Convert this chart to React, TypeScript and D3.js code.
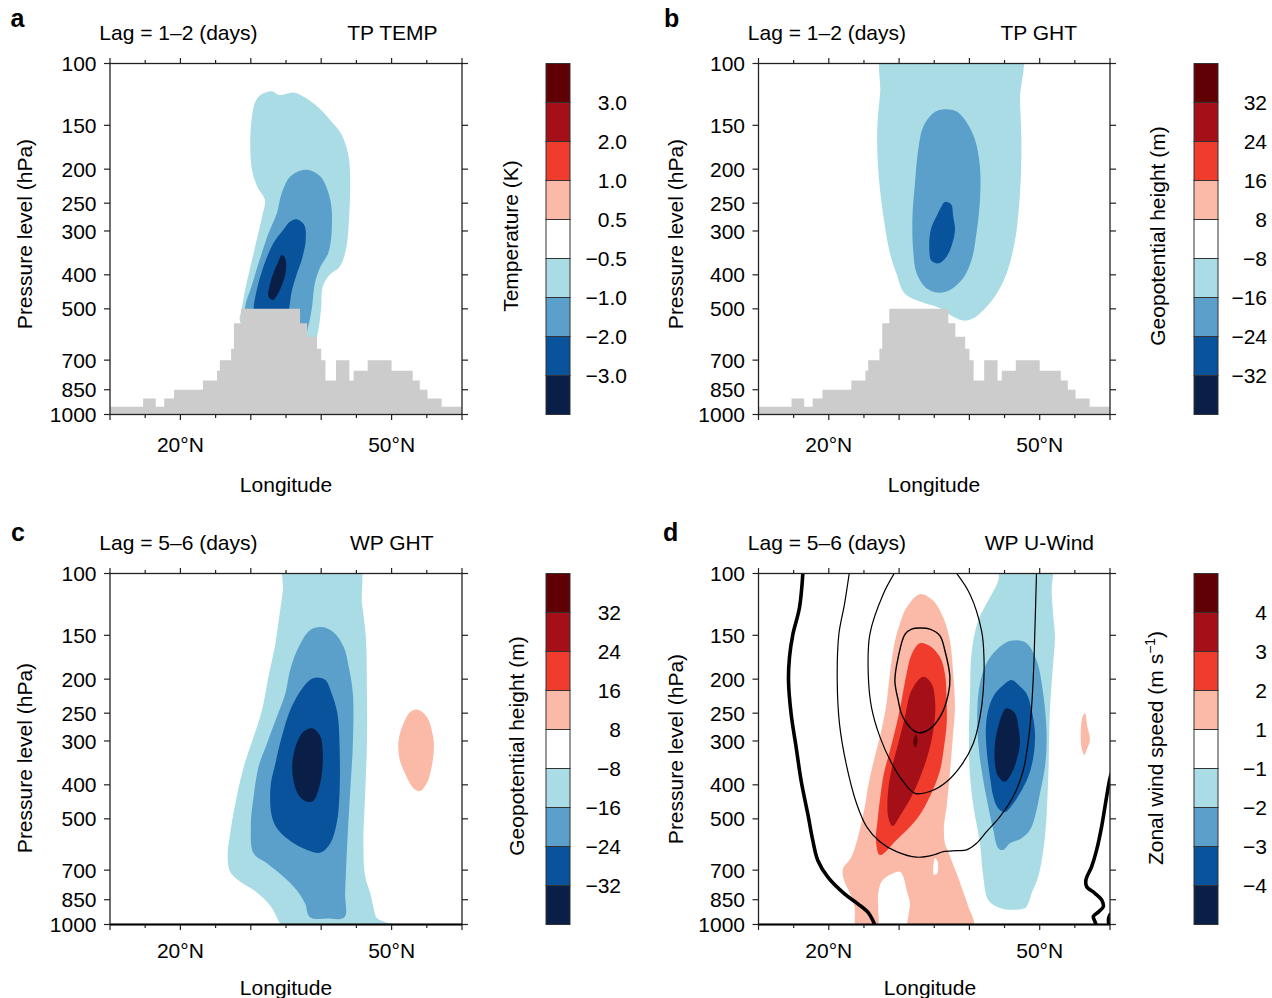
import React from "react";
import * as d3 from "d3";

const FONT = '"Liberation Sans", Arial, Helvetica, sans-serif';

// ---------- axes ----------
const LAT_TICKS = [10, 15, 20, 25, 30, 35, 40, 45, 50, 55, 60];
const LAT_LABEL_VALUES = [20, 50];
const LAT_LABEL_TEXT = ["20°N", "50°N"];
const P_TICKS = [100, 150, 200, 250, 300, 400, 500, 700, 850, 1000];

// ---------- colour levels (top of colour bar → bottom) ----------
const LEVEL_COLORS = ["#600004", "#a50f17", "#ef3c2d", "#fbbaa8", "#ffffff", "#aadce5", "#5aa0cb", "#08539c", "#0a1f47"];
const TEMP_LABELS = ["3.0", "2.0", "1.0", "0.5", "−0.5", "−1.0", "−2.0", "−3.0"];
const GHT_LABELS = ["32", "24", "16", "8", "−8", "−16", "−24", "−32"];
const WIND_LABELS = ["4", "3", "2", "1", "−1", "−2", "−3", "−4"];

// ---------- terrain (latitude edges, surface pressure of each step) ----------
const TERRAIN_EDGES = [10, 14.7, 16.5, 17.7, 19.1, 23.2, 25.2, 25.6, 27.2, 27.6, 28.6, 37.0, 38.0, 39.4, 40.0, 40.6, 42.1, 44.0, 44.6, 46.6, 50.0, 53.0, 54.0, 55.1, 57.1, 60];
const TERRAIN_TOPS = [950, 900, 950, 900, 850, 800, 750, 700, 650, 550, 500, 550, 600, 650, 700, 800, 700, 800, 750, 700, 750, 800, 850, 900, 950];

// ---------- panel a: TP TEMP (lat, hPa) ----------
const A_M05 = [[30.1,145],[31.0,125],[32.9,120],[34.1,123],[36.0,121],[37.4,124],[39.7,134],[41.4,146],[42.8,158],[43.8,180],[44.1,205],[44.0,267],[43.5,340],[42.6,380],[41.2,400],[40.2,433],[40.0,494],[39.7,557],[39.3,605],[38.5,640],[33,640],[28.5,545],[28.7,502],[29.4,423],[30.4,347],[31.6,273],[32.0,245],[30.9,224],[30.1,197]];
const A_M10 = [[35.6,210],[37.0,202],[38.2,201],[39.9,210],[41.3,245],[41.5,298],[41.0,347],[39.9,379],[39.1,423],[38.7,493],[38.2,556],[37.7,590],[34,600],[29.5,560],[29.2,493],[30.1,432],[31.1,371],[32.5,305],[33.7,267],[34.4,234]];
const A_M20 = [[35.6,282],[36.5,278],[37.6,289],[37.8,318],[37.3,359],[36.5,400],[35.8,447],[35.45,498],[35.1,540],[30.5,540],[30.4,498],[30.85,442],[31.8,379],[33.2,325],[34.6,298]];
const A_M30 = [[34.4,351],[34.9,359],[35.0,388],[34.6,418],[33.9,451],[33.2,472],[32.5,461],[32.65,432],[33.2,396],[33.9,367]];

// ---------- panel b: TP GHT ----------
const B_M8 = [[28.0,90],[27.3,122],[26.9,152],[27.0,197],[27.7,267],[28.7,347],[29.6,396],[30.8,452],[33.4,480],[35.8,498],[37.2,520],[39.1,540],[40.55,532],[42.0,504],[43.9,452],[45.3,396],[46.5,318],[47.2,234],[47.4,169],[47.2,127],[47.05,90]];
const B_M16 = [[35.6,136],[36.75,135],[38.2,137],[39.6,147],[40.8,165],[41.5,197],[41.5,245],[41.0,305],[40.3,363],[39.1,409],[37.2,442],[35.6,450],[33.9,437],[32.5,396],[32.0,340],[31.9,273],[32.25,220],[32.7,177],[33.4,152],[34.6,140]];
const B_M24 = [[36.5,248],[37.4,252],[37.7,273],[37.95,298],[37.5,329],[36.75,355],[35.6,371],[34.6,365],[34.3,340],[34.5,298],[35.3,273],[36.0,256]];

// ---------- panel c: WP GHT ----------
const C_M8 = [[34.9,90],[34.55,112],[34.1,130],[33.5,158],[32.5,197],[31.6,245],[30.4,292],[29.0,355],[27.8,452],[27.0,562],[26.7,641],[27.06,707],[28.5,755],[30.4,797],[31.8,842],[33.0,898],[33.7,953],[34.6,1010],[52.65,1010],[49.3,987],[47.9,959],[47.5,908],[46.97,815],[46.25,730],[46.0,587],[46.25,423],[46.5,305],[46.5,220],[46.35,152],[45.8,122],[45.07,90]];
const C_M16 = [[40.1,142],[41.75,147],[43.2,162],[43.9,184],[44.5,220],[44.5,305],[44.1,423],[43.7,587],[43.4,815],[43.3,953],[40.8,962],[38.4,953],[37.7,870],[36.5,797],[34.6,730],[32.3,669],[30.4,627],[30.0,526],[30.4,432],[31.1,355],[32.3,305],[33.7,256],[34.9,220],[35.6,188],[36.8,162],[38.4,145]];
const C_M24 = [[39.6,198],[40.6,201],[41.5,220],[42.3,250],[42.6,305],[42.6,423],[42.2,515],[41.3,587],[39.9,624],[38.0,613],[36.1,587],[33.9,538],[33.0,493],[32.8,405],[33.5,347],[34.4,292],[35.6,245],[37.0,217],[38.4,201]];
const C_M32 = [[38.7,276],[39.8,289],[40.2,318],[40.1,371],[39.6,414],[38.9,444],[38.0,447],[36.8,428],[36.1,392],[35.9,347],[36.5,305],[37.5,282]];
const C_P8 = [[53.6,244],[55.0,256],[55.9,292],[56.0,318],[55.7,355],[55.0,396],[54.0,417],[53.1,409],[51.9,371],[51.1,336],[51.0,298],[51.7,267],[52.65,248]];

// ---------- panel d: WP U-Wind ----------
const D_P1 = [[32.96,114.5],[34.86,119.6],[36.28,133.5],[37.23,155.5],[37.7,193],[37.94,241],[37.61,298],[37.23,371],[36.76,461],[36.38,526],[36.52,587],[36.99,620],[38.18,715],[39.03,797],[39.84,889],[40.55,1010],[31.3,1010],[31.3,949],[31.54,870],[31.06,797],[30.59,730],[30.11,707],[28.69,722],[27.5,755],[27.03,815],[27.03,908],[26.89,1010],[23.95,1010],[23.66,893],[23.0,815],[22.14,746],[22.0,695],[23.19,643],[24.14,564],[25.09,464],[25.65,398],[26.41,341],[27.36,287],[28.12,241],[28.69,193],[29.4,156],[30.11,139],[31.06,125]];
const D_P1_HOLE = [[35.1,648],[35.47,662],[35.43,715],[34.95,722],[34.86,691]];
const D_P2 = [[32.96,158],[34.38,161],[35.81,173],[36.52,193],[36.76,230],[36.76,269],[36.38,313],[35.71,371],[33.67,461],[32.01,515],[29.64,574],[27.27,634],[26.7,574],[26.89,515],[27.27,442],[27.84,371],[28.69,320],[29.64,269],[30.35,230],[31.06,193],[31.77,170]];
const D_P3 = [[33.43,197],[34.62,206],[35.14,234],[34.95,273],[34.29,318],[33.2,371],[31.77,432],[30.35,482],[29.07,524],[28.45,493],[28.45,414],[29.02,355],[29.88,305],[30.83,256],[31.77,215]];
const D_P4 = [[32.39,287],[32.63,298],[32.34,313],[32.01,305],[32.15,293]];
const D_P1_EAST = [[56.44,250],[56.78,273],[57.15,298],[56.68,318],[56.35,329],[55.97,315],[55.83,285],[56.1,256]];
const D_M1 = [[44.58,90],[51.46,90],[51.7,114],[51.94,133],[52.17,152],[51.84,188],[51.46,245],[51.22,379],[50.75,562],[49.8,730],[48.85,815],[48.38,870],[47.9,898],[46.24,908],[44.35,898],[42.68,851],[41.97,730],[41.5,587],[40.65,472],[40.08,379],[39.93,305],[40.08,220],[40.3,169],[41.26,136],[42.92,117],[44.1,105]];
const D_M2 = [[46.72,155],[48.14,158],[49.56,177],[50.5,220],[50.99,292],[50.75,355],[50.04,423],[49.33,493],[48.6,538],[47.43,568],[45.77,587],[44.82,613],[44.1,606],[43.4,538],[42.68,461],[41.88,379],[41.26,305],[41.12,245],[41.5,206],[42.45,180],[43.87,165],[45.29,157]];
const D_M3 = [[46.0,201],[47.19,210],[48.14,220],[48.85,245],[49.33,285],[49.1,333],[48.38,379],[47.19,423],[46.24,452],[45.06,478],[44.1,467],[43.4,432],[42.92,379],[42.45,318],[42.35,273],[42.68,245],[43.4,224],[44.58,210]];
const D_M4 = [[45.29,242],[46.48,250],[46.95,273],[47.19,305],[46.72,340],[46.0,371],[45.06,392],[44.1,379],[43.63,347],[43.63,305],[44.1,273],[44.72,250]];
// climatological jet contours (black)
const D_ZERO_W = [[16.35,97],[15.83,125],[14.89,149],[14.41,173],[14.27,202],[14.65,252],[15.36,313],[16.07,390],[17.02,485],[17.73,577],[18.44,657],[19.87,733],[22.24,818],[24.14,873],[25.56,922],[26.27,974],[26.6,1010]];
const D_ZERO_E = [[60.3,365],[60.0,383],[59.76,405],[59.29,461],[58.81,526],[58.1,613],[57.39,684],[56.58,746],[56.68,780],[57.86,815],[58.81,851],[59.05,889],[58.34,922],[57.63,949],[57.86,981],[58.1,1010]];
const D_ZERO_E2 = [[60.1,930],[59.8,960],[59.85,1010]];
const D_JET_OUTER = [[23.0,97],[22.24,122],[21.43,149],[21.2,202],[21.53,269],[22.48,349],[23.95,452],[25.37,526],[27.27,581],[29.64,620],[32.49,643],[34.86,634],[36.28,620],[38.18,616],[39.6,613],[41.02,587],[42.45,544],[44.35,493],[46.24,432],[47.67,363],[48.62,273],[49.09,197],[49.33,142],[49.56,97]];
const D_JET_MID = [[29.7,97],[27.74,114.5],[25.84,149],[25.61,193],[26.08,241],[27.27,292],[28.93,347],[30.59,392],[32.25,423],[34.38,418],[36.76,392],[38.89,351],[40.55,305],[41.5,257],[41.97,216],[42.07,173],[41.74,146],[40.08,114.5],[37.7,97]];
const D_JET_INNER = [[32.96,143],[34.38,144],[35.81,150.5],[36.52,166],[37.23,198],[36.99,221],[36.04,251.5],[34.38,277],[32.72,284],[31.54,274],[30.35,251.5],[29.88,230],[29.4,202],[29.88,173],[30.83,149],[31.77,144]];

type Box = { x0: number; x1: number; y0: number; y1: number };
type Fill = { pts: number[][]; c: number };
type Stroke = { pts: number[][]; w: number; closed?: boolean };

const BOX_A: Box = { x0: 110, x1: 462, y0: 63.5, y1: 414.5 };
const BOX_B: Box = { x0: 758.5, x1: 1110, y0: 63.5, y1: 414.5 };
const BOX_C: Box = { x0: 110, x1: 462, y0: 573.5, y1: 924.5 };
const BOX_D: Box = { x0: 758.5, x1: 1110, y0: 573.5, y1: 924.5 };

function Panel(props: {
  id: string; box: Box; fills: Fill[]; strokes?: Stroke[]; terrain?: boolean;
  letter: string; letterX: number; letterY: number; rightTitle: string; rightTitleX: number; lag: string;
  tickLabelDy: number; xTitleDy: number; yTitleCy: number; yTitleX: number; xTitleCx: number; thickBottom?: boolean;
}) {
  const { box } = props;
  const x = d3.scaleLinear().domain([10, 60]).range([box.x0, box.x1]);
  const y = d3.scaleLog().domain([100, 1000]).range([box.y0, box.y1]);
  const closed = d3.line<number[]>().x((d) => x(d[0])).y((d) => y(d[1])).curve(d3.curveCatmullRomClosed.alpha(0.5));
  const open = d3.line<number[]>().x((d) => x(d[0])).y((d) => y(d[1])).curve(d3.curveCatmullRom.alpha(0.5));
  const terrainData = TERRAIN_EDGES.map((e, i) => ({ lat: e, p: TERRAIN_TOPS[Math.min(i, TERRAIN_TOPS.length - 1)] }));
  const area = d3.area<{ lat: number; p: number }>().x((d) => x(d.lat)).y0(y(1000)).y1((d) => y(d.p)).curve(d3.curveStepAfter);
  const clipId = "clip-" + props.id;
  const stroke = "#222";
  return (
    <g>
      <defs>
        <clipPath id={clipId}>
          <rect x={box.x0} y={box.y0} width={box.x1 - box.x0} height={box.y1 - box.y0} />
        </clipPath>
      </defs>
      <g clipPath={`url(#${clipId})`}>
        {props.fills.map((f, i) => (
          <path key={i} d={closed(f.pts) || ""} fill={LEVEL_COLORS[f.c]} stroke="none" />
        ))}
        {props.terrain && <path d={area(terrainData) || ""} fill="#cccccc" />}
        {(props.strokes || []).map((s, i) => (
          <path key={i} d={(s.closed ? closed(s.pts) : open(s.pts)) || ""} fill="none" stroke="#000" strokeWidth={s.w} strokeLinejoin="round" />
        ))}
      </g>
      <rect x={box.x0} y={box.y0} width={box.x1 - box.x0} height={box.y1 - box.y0} fill="none" stroke={stroke} strokeWidth={1.3} />
      {props.thickBottom && <line x1={box.x0} x2={box.x1} y1={box.y1} y2={box.y1} stroke="#000" strokeWidth={2.2} />}
      {LAT_TICKS.map((t) => {
        const len = t % 10 === 0 ? 5.5 : 3.5;
        return (
          <g key={t}>
            <line x1={x(t)} x2={x(t)} y1={box.y0} y2={box.y0 - len} stroke={stroke} strokeWidth={1.2} />
            <line x1={x(t)} x2={x(t)} y1={box.y1} y2={box.y1 + len} stroke={stroke} strokeWidth={1.2} />
          </g>
        );
      })}
      {P_TICKS.map((p) => (
        <g key={p}>
          <line x1={box.x0} x2={box.x0 - 6} y1={y(p)} y2={y(p)} stroke={stroke} strokeWidth={1.2} />
          <line x1={box.x1} x2={box.x1 + 6} y1={y(p)} y2={y(p)} stroke={stroke} strokeWidth={1.2} />
          <text x={box.x0 - 13.5} y={y(p)} dy="0.36em" textAnchor="end" fontSize={21}>{p}</text>
        </g>
      ))}
      {LAT_LABEL_VALUES.map((v, i) => (
        <text key={v} x={x(v)} y={box.y1 + props.tickLabelDy} textAnchor="middle" fontSize={21}>{LAT_LABEL_TEXT[i]}</text>
      ))}
      <text x={props.xTitleCx} y={box.y1 + props.xTitleDy} textAnchor="middle" fontSize={21}>Longitude</text>
      <text transform={`translate(${props.yTitleX},${props.yTitleCy}) rotate(-90)`} dy="0.36em" textAnchor="middle" fontSize={21}>Pressure level (hPa)</text>
      <text x={box.x0 - 10.7} y={box.y0 - 23.5} fontSize={21}>{props.lag}</text>
      <text x={props.rightTitleX} y={box.y0 - 23.5} fontSize={21} textAnchor="end">{props.rightTitle}</text>
      <text x={props.letterX} y={props.letterY} fontSize={25} fontWeight="bold">{props.letter}</text>
    </g>
  );
}

function ColorBar(props: { x: number; y0: number; y1: number; labels: string[]; labelRight: number; titleX: number; titleY: number; title: React.ReactNode }) {
  const n = LEVEL_COLORS.length;
  const y = d3.scaleLinear().domain([0, n]).range([props.y0, props.y1]);
  return (
    <g>
      {LEVEL_COLORS.map((c, i) => (
        <rect key={i} x={props.x} y={y(i)} width={24} height={y(i + 1) - y(i)} fill={c} stroke="#333" strokeWidth={1} />
      ))}
      {props.labels.map((l, i) => (
        <text key={i} x={props.labelRight} y={y(i + 1)} dy="0.36em" textAnchor="end" fontSize={21}>{l}</text>
      ))}
      <text transform={`translate(${props.titleX},${props.titleY}) rotate(-90)`} dy="0.36em" textAnchor="middle" fontSize={21}>{props.title}</text>
    </g>
  );
}

export default function App() {
  const fillsA: Fill[] = [{ pts: A_M05, c: 5 }, { pts: A_M10, c: 6 }, { pts: A_M20, c: 7 }, { pts: A_M30, c: 8 }];
  const fillsB: Fill[] = [{ pts: B_M8, c: 5 }, { pts: B_M16, c: 6 }, { pts: B_M24, c: 7 }];
  const fillsC: Fill[] = [{ pts: C_M8, c: 5 }, { pts: C_M16, c: 6 }, { pts: C_M24, c: 7 }, { pts: C_M32, c: 8 }, { pts: C_P8, c: 3 }];
  const fillsD: Fill[] = [
    { pts: D_P1, c: 3 }, { pts: D_P1_HOLE, c: 4 }, { pts: D_P2, c: 2 }, { pts: D_P3, c: 1 }, { pts: D_P4, c: 0 }, { pts: D_P1_EAST, c: 3 },
    { pts: D_M1, c: 5 }, { pts: D_M2, c: 6 }, { pts: D_M3, c: 7 }, { pts: D_M4, c: 8 },
  ];
  const strokesD: Stroke[] = [
    { pts: D_ZERO_W, w: 3.6 }, { pts: D_ZERO_E, w: 3.6 }, { pts: D_ZERO_E2, w: 3.6 },
    { pts: D_JET_OUTER, w: 1.2 }, { pts: D_JET_MID, w: 1.2 }, { pts: D_JET_INNER, w: 1.4, closed: true },
  ];
  return (
    <svg width={1272} height={998} style={{ display: "block", position: "absolute", left: 0, top: 0, fontFamily: FONT }} fontFamily={FONT}>
      <rect width={1272} height={998} fill="#fff" />
      <Panel id="a" box={BOX_A} fills={fillsA} terrain letter="a" letterX={10.5} letterY={27} lag="Lag = 1–2 (days)" rightTitle="TP TEMP" rightTitleX={437.5}
        tickLabelDy={37} xTitleDy={77} xTitleCx={286} yTitleX={24} yTitleCy={234} />
      <Panel id="b" box={BOX_B} fills={fillsB} terrain letter="b" letterX={664} letterY={27} lag="Lag = 1–2 (days)" rightTitle="TP GHT" rightTitleX={1077}
        tickLabelDy={37} xTitleDy={77} xTitleCx={934} yTitleX={675} yTitleCy={234} />
      <Panel id="c" box={BOX_C} fills={fillsC} letter="c" letterX={11} letterY={541} lag="Lag = 5–6 (days)" rightTitle="WP GHT" rightTitleX={433.5}
        tickLabelDy={33.5} xTitleDy={70.5} xTitleCx={286} yTitleX={24} yTitleCy={758} thickBottom />
      <Panel id="d" box={BOX_D} fills={fillsD} strokes={strokesD} letter="d" letterX={663} letterY={541} lag="Lag = 5–6 (days)" rightTitle="WP U-Wind" rightTitleX={1094}
        tickLabelDy={33.5} xTitleDy={70.5} xTitleCx={930} yTitleX={675} yTitleCy={749} thickBottom />
      <ColorBar x={546} y0={63.5} y1={414.5} labels={TEMP_LABELS} labelRight={627} titleX={510} titleY={236} title="Temperature (K)" />
      <ColorBar x={1194} y0={63.5} y1={414.5} labels={GHT_LABELS} labelRight={1267} titleX={1157} titleY={236} title="Geopotential height (m)" />
      <ColorBar x={546} y0={573.5} y1={924.5} labels={GHT_LABELS} labelRight={621} titleX={516} titleY={746} title="Geopotential height (m)" />
      <ColorBar x={1194} y0={573.5} y1={924.5} labels={WIND_LABELS} labelRight={1267} titleX={1155} titleY={748}
        title={<>Zonal wind speed (m s<tspan baselineShift="super" fontSize={14}>−1</tspan>)</>} />
    </svg>
  );
}
